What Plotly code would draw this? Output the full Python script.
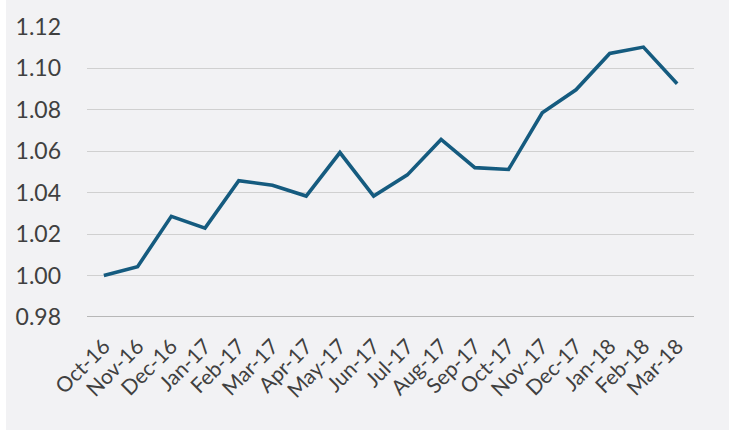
import plotly.graph_objects as go

months = ["Oct-16", "Nov-16", "Dec-16", "Jan-17", "Feb-17", "Mar-17", "Apr-17", "May-17",
          "Jun-17", "Jul-17", "Aug-17", "Sep-17", "Oct-17", "Nov-17", "Dec-17", "Jan-18",
          "Feb-18", "Mar-18"]
values = [1.000, 1.0043, 1.0286, 1.0229, 1.0458, 1.0436, 1.0384, 1.0594,
          1.0384, 1.0486, 1.0657, 1.0521, 1.0512, 1.0786, 1.0897, 1.1072,
          1.1103, 1.0926]
y_ticks = [0.98, 1.00, 1.02, 1.04, 1.06, 1.08, 1.10, 1.12]

W, H = 729, 430
L, R, T, B = 87, 35, 22, 113
pw = W - L - R

fig = go.Figure()
fig.add_trace(go.Scatter(
    x=months, y=values, mode="lines",
    line=dict(color="#155b7f", width=3.6),
    hoverinfo="x+y", showlegend=False,
))

fig.update_layout(
    width=W, height=H,
    margin=dict(l=L, r=R, t=T, b=B, pad=0),
    paper_bgcolor="#f2f2f4",
    plot_bgcolor="#f2f2f4",
    font=dict(family="Lato, sans-serif", color="#404040"),
    xaxis=dict(
        type="category",
        range=[-0.5, len(months) - 0.5],
        tickangle=-45,
        tickfont=dict(size=21, color="#404040"),
        showgrid=False,
        showline=False,
        ticks="",
        zeroline=False,
        ticklabelstandoff=12,
    ),
    yaxis=dict(
        range=[0.98, 1.12],
        tickvals=y_ticks,
        ticktext=[f"{v:.2f}" for v in y_ticks],
        tickfont=dict(size=23, color="#404040"),
        showgrid=True,
        gridcolor="#d0d0d0",
        gridwidth=1,
        zeroline=False,
        showline=False,
        ticks="",
        ticklabelstandoff=25,
    ),
    shapes=[
        dict(type="line", xref="paper", yref="y", x0=0, x1=1, y0=0.98, y1=0.98,
             line=dict(color="#a3a3a3", width=1.5), layer="below"),
        dict(type="rect", xref="paper", yref="paper",
             x0=-L / pw, x1=-(L - 6) / pw, y0=-1, y1=2,
             fillcolor="#ffffff", line=dict(width=0), layer="above"),
    ],
)

fig.write_html("out.html", config={"displayModeBar": False},
               post_script="document.body.style.margin='0';document.body.style.overflow='hidden';")
